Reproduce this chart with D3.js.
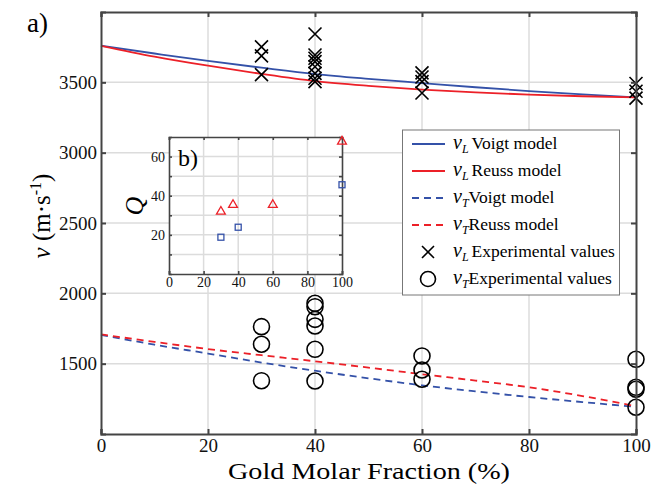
<!DOCTYPE html>
<html>
<head>
<meta charset="utf-8">
<script src="https://cdn.jsdelivr.net/npm/d3@7"></script>
<style>
  body { margin: 0; background: #fff; }
  svg { display: block; }
</style>
</head>
<body>
<svg id="chart" width="662" height="487"></svg>
<script>
// ---- data ----
const modelX = [0, 10, 20, 30, 40, 50, 60, 70, 80, 90, 100]
const vlVoigt = [3760, 3705, 3652, 3604, 3559, 3525, 3495, 3465, 3438, 3414, 3393]
const vlReuss = [3760, 3683, 3618, 3560, 3509, 3475, 3448, 3428, 3413, 3401, 3393]
const vtVoigt = [1705, 1635, 1572, 1508, 1450, 1396, 1346, 1303, 1263, 1227, 1193]
const vtReuss = [1708, 1655, 1604, 1560, 1517, 1472, 1425, 1380, 1332, 1270, 1197]

const vlExpX = [30, 30, 30, 40, 40, 40, 40, 40, 40, 40, 40, 60, 60, 60, 60, 100, 100, 100]
const vlExpY = [3752, 3688, 3555, 3844, 3694, 3671, 3647, 3611, 3564, 3529, 3505, 3567, 3538, 3505, 3424, 3492, 3437, 3388]

const vtExpX = [30, 30, 30, 40, 40, 40, 40, 40, 40, 60, 60, 60, 100, 100, 100, 100]
const vtExpY = [1763, 1638, 1379, 1929, 1905, 1815, 1768, 1602, 1377, 1555, 1455, 1389, 1531, 1332, 1318, 1190]

// inset b): Q factor
const qReussX = [30, 37, 60, 100]
const qReussY = [31.9, 35.3, 35.3, 67.7]
const qVoigtX = [30, 40, 100]
const qVoigtY = [18.8, 23.9, 45.6]

const xTicks = [0, 20, 40, 60, 80, 100]
const yTicks = [1500, 2000, 2500, 3000, 3500]
const insetYGrid = [10, 20, 30, 40, 50, 60]
const insetYLabels = [20, 40, 60]

const blue = '#3451a8', red = '#ec2028', axisCol = '#444', gridCol = '#dcdcdc'
const serif = "'Liberation Serif', 'DejaVu Serif', serif"

const svg = d3.select('#chart').style('font-family', serif)

// ---- main panel ----
const x = d3.scaleLinear().domain([0, 100]).range([101, 636])
const y = d3.scaleLinear().domain([1000, 4000]).range([434, 12])

const grid = svg.append('g')
grid.selectAll('.gx').data(xTicks.slice(1, -1)).enter().append('line')
    .attr('x1', d => x(d)).attr('x2', d => x(d))
    .attr('y1', y.range()[0]).attr('y2', y.range()[1])
    .attr('stroke', gridCol).attr('stroke-width', 1.5)
grid.selectAll('.gy').data(yTicks).enter().append('line')
    .attr('y1', d => y(d)).attr('y2', d => y(d))
    .attr('x1', x.range()[0]).attr('x2', x.range()[1])
    .attr('stroke', gridCol).attr('stroke-width', 1.5)

const drawAxes = (g, xs, ys, xt, yt, size, tickLen, lw, xPad, yPad, xFmt, yFmt) => {
    const [x0, x1] = xs.range(), [y0, y1] = ys.range()
    g.append('g').attr('transform', `translate(0,${y0})`)
        .call(d3.axisBottom(xs).tickValues(xt).tickSize(-tickLen).tickPadding(xPad).tickFormat(xFmt))
    g.append('g').attr('transform', `translate(${x0},0)`)
        .call(d3.axisLeft(ys).tickValues(yt).tickSize(-tickLen).tickPadding(yPad).tickFormat(yFmt))
    g.append('g').attr('transform', `translate(0,${y1})`)
        .call(d3.axisTop(xs).tickValues(xt).tickSize(-tickLen).tickFormat(''))
    g.append('g').attr('transform', `translate(${x1},0)`)
        .call(d3.axisRight(ys).tickValues(yt).tickSize(-tickLen).tickFormat(''))
    g.selectAll('g').attr('font-family', null)
    g.selectAll('.domain').attr('stroke', axisCol).attr('stroke-width', lw)
    g.selectAll('.tick line').attr('stroke', axisCol).attr('stroke-width', lw)
    g.selectAll('.tick text').style('font-family', serif)
        .style('font-size', size + 'px').attr('fill', '#111')
}

const line = (xs, ys) => d3.line().x((d, i) => xs(modelX[i])).y(d => ys(d)).curve(d3.curveMonotoneX)

const models = [
    { v: vlVoigt, c: blue, dash: null },
    { v: vlReuss, c: red, dash: null },
    { v: vtVoigt, c: blue, dash: '7,5' },
    { v: vtReuss, c: red, dash: '7,5' }
]
svg.append('g').selectAll('path').data(models).enter().append('path')
    .attr('d', d => line(x, y)(d.v))
    .attr('fill', 'none')
    .attr('stroke', d => d.c)
    .attr('stroke-width', 1.8)
    .attr('stroke-dasharray', d => d.dash)

const cross = (g, cx, cy, s) => g.append('path')
    .attr('d', `M${cx - s},${cy - s}L${cx + s},${cy + s}M${cx - s},${cy + s}L${cx + s},${cy - s}`)
    .attr('stroke', '#000').attr('stroke-width', 1.6).attr('fill', 'none')

const marks = svg.append('g')
vlExpX.forEach((d, i) => cross(marks, x(d), y(vlExpY[i]), 6.5))
marks.selectAll('circle').data(vtExpX).enter().append('circle')
    .attr('cx', d => x(d)).attr('cy', (d, i) => y(vtExpY[i])).attr('r', 8)
    .attr('fill', 'none').attr('stroke', '#000').attr('stroke-width', 1.6)

drawAxes(svg.append('g'), x, y, xTicks, yTicks, 19, 5, 2, 5, 4, d3.format('d'), d3.format('d'))

// axis titles
svg.append('text').attr('x', 369).attr('y', 479).attr('text-anchor', 'middle')
    .attr('textLength', 282).attr('lengthAdjust', 'spacingAndGlyphs')
    .style('font-size', '23px').text('Gold Molar Fraction (%)')
const yl = svg.append('text').attr('transform', 'translate(50,216) rotate(-90)')
    .attr('text-anchor', 'middle').style('font-size', '25px')
yl.append('tspan').style('font-style', 'italic').text('v')
yl.append('tspan').text(' (m·s')
yl.append('tspan').attr('dy', -9).style('font-size', '16px').text('-1')
yl.append('tspan').attr('dy', 9).text(')')

svg.append('text').attr('x', 27).attr('y', 32).style('font-size', '27px').text('a)')

// ---- legend ----
const lg = svg.append('g')
lg.append('rect').attr('x', 402.5).attr('y', 130).attr('width', 217).attr('height', 165)
    .attr('fill', '#fff').attr('stroke', '#777').attr('stroke-width', 1)
const legendItems = [
    { sub: 'L', txt: 'Voigt model', c: blue, dash: null, kind: 'line' },
    { sub: 'L', txt: 'Reuss model', c: red, dash: null, kind: 'line' },
    { sub: 'T', txt: 'Voigt model', c: blue, dash: '7,5', kind: 'line' },
    { sub: 'T', txt: 'Reuss model', c: red, dash: '7,5', kind: 'line' },
    { sub: 'L', txt: 'Experimental values', kind: 'cross' },
    { sub: 'T', txt: 'Experimental values', kind: 'circle' }
]
const legendY = [144, 171, 198, 225, 252, 279]
legendItems.forEach((d, i) => {
    const ly = legendY[i]
    if (d.kind === 'line') {
        lg.append('line').attr('x1', 412).attr('x2', 445).attr('y1', ly).attr('y2', ly)
            .attr('stroke', d.c).attr('stroke-width', 1.8).attr('stroke-dasharray', d.dash)
    } else if (d.kind === 'cross') {
        cross(lg, 428, ly, 6)
    } else {
        lg.append('circle').attr('cx', 428).attr('cy', ly).attr('r', 7.5)
            .attr('fill', 'none').attr('stroke', '#000').attr('stroke-width', 1.6)
    }
    const t = lg.append('text').attr('x', 453).attr('y', ly + 5).style('font-size', '17.5px')
    t.append('tspan').style('font-style', 'italic').style('font-size', '20px').text('v')
    t.append('tspan').attr('dy', 4).style('font-style', 'italic').style('font-size', '12px').text(d.sub)
    t.append('tspan').attr('dy', -4).attr('dx', d.sub === 'L' ? 3 : 0).text(d.txt)
})

// ---- inset b) ----
const ix = d3.scaleLinear().domain([0, 100]).range([169, 342])
const iy = d3.scaleLinear().domain([0, 70]).range([274, 137])
const inset = svg.append('g')
inset.append('rect').attr('x', 169).attr('y', 137).attr('width', 173).attr('height', 137).attr('fill', '#fff')
inset.selectAll('.igx').data(xTicks.slice(1, -1)).enter().append('line')
    .attr('x1', d => ix(d)).attr('x2', d => ix(d)).attr('y1', 274).attr('y2', 137)
    .attr('stroke', gridCol).attr('stroke-width', 1.5)
inset.selectAll('.igy').data(insetYGrid).enter().append('line')
    .attr('y1', d => iy(d)).attr('y2', d => iy(d)).attr('x1', 169).attr('x2', 342)
    .attr('stroke', gridCol).attr('stroke-width', 1.5)

const ia = inset.append('g')
drawAxes(ia, ix, iy, xTicks, insetYGrid, 14, 3, 1.6, 3, 4, d3.format('d'),
    d => insetYLabels.includes(d) ? d : '')

const tri = d3.symbol().type(d3.symbolTriangle).size(34)
inset.selectAll('.tri').data(qReussX).enter().append('path')
    .attr('d', tri)
    .attr('transform', (d, i) => `translate(${ix(d)},${iy(qReussY[i])})`)
    .attr('fill', 'none').attr('stroke', red).attr('stroke-width', 1.3)
inset.selectAll('.sq').data(qVoigtX).enter().append('rect')
    .attr('x', d => ix(d) - 3).attr('y', (d, i) => iy(qVoigtY[i]) - 3)
    .attr('width', 6).attr('height', 6)
    .attr('fill', 'none').attr('stroke', blue).attr('stroke-width', 1.3)

inset.append('text').attr('x', 178).attr('y', 166).style('font-size', '24px').text('b)')
inset.append('text').attr('transform', 'translate(143,206) rotate(-90)')
    .attr('text-anchor', 'middle').style('font-size', '26px').style('font-style', 'italic').text('Q')
</script>
</body>
</html>
